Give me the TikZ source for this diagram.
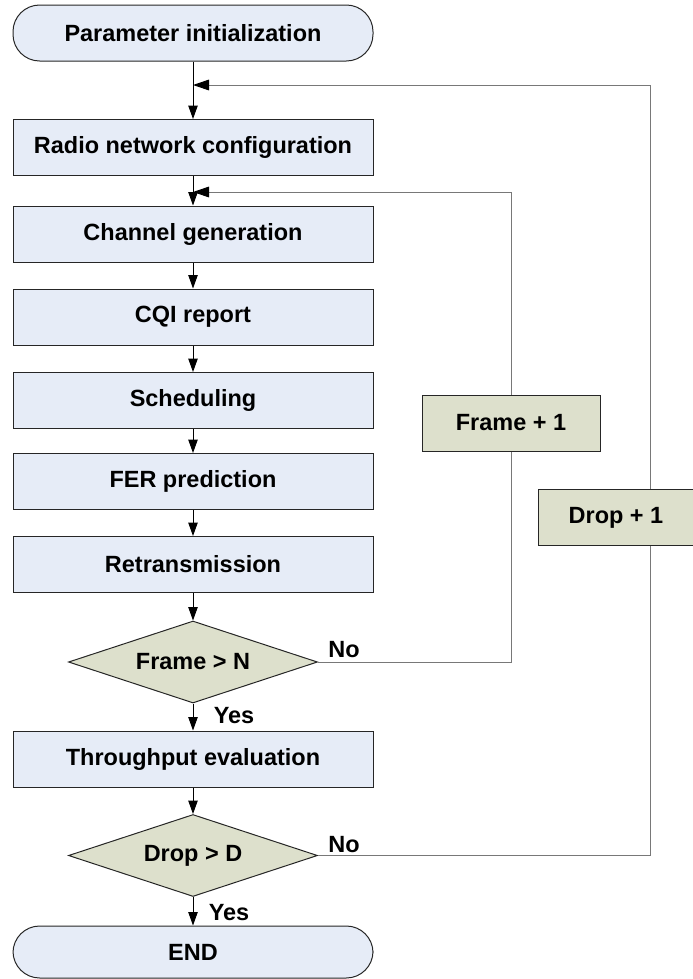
\documentclass[tikz,border=0pt]{standalone}
\usepackage{fontspec}
\setmainfont{Liberation Sans}
\usetikzlibrary{shapes.geometric,arrows.meta}
\definecolor{boxblue}{RGB}{230,236,247}
\definecolor{boxgreen}{RGB}{221,224,204}
\definecolor{linegray}{RGB}{120,120,120}
\begin{document}
\begin{tikzpicture}[x=0.75pt,y=-0.75pt,
  font=\fontsize{17.6}{20}\selectfont\bfseries,
  procbox/.style={draw=black!85, fill=boxblue, line width=0.75pt, minimum width=270pt, minimum height=42pt, inner sep=0pt},
  termbox/.style={procbox, rounded corners=20pt},
  decbox/.style={diamond, shape aspect=3, draw=black!85, fill=boxgreen, line width=0.75pt, minimum width=186.75pt, minimum height=61.5pt, inner sep=0pt},
  incbox/.style={draw=black!85, fill=boxgreen, line width=0.75pt, minimum height=42pt, inner sep=0pt},
  flow/.style={draw=black, line width=0.75pt, -{Triangle[length=10pt,width=7pt]}},
  back/.style={draw=linegray, line width=0.75pt, -{Triangle[length=12pt,width=8pt,color=black]}},
  backline/.style={draw=linegray, line width=0.75pt},
  lbl/.style={inner sep=0pt}
]
\useasboundingbox (0,0) rectangle (693,979);

\node[termbox] (start) at (193,33) {Parameter initialization};
\node[procbox] (radio) at (193,147.5) {Radio network configuration};
\node[procbox] (chan) at (193,234) {Channel generation};
\node[procbox] (cqi) at (193,317) {CQI report};
\node[procbox] (sched) at (193,400.5) {Scheduling};
\node[procbox] (fer) at (193,481.5) {FER prediction};
\node[procbox] (retx) at (193,564.5) {Retransmission};
\node[decbox] (frameN) at (193,662) {Frame > N};
\node[procbox] (thr) at (193,759) {Throughput evaluation};
\node[decbox] (dropD) at (193,855.5) {Drop > D};
\node[termbox, minimum height=39pt] (end) at (193,952) {END};

\node[incbox, minimum width=133.5pt] (frame1) at (511,423) {Frame + 1};
\node[incbox, minimum width=117pt] (drop1) at (616,517.5) {Drop + 1};

\coordinate (j0) at (193,85);
\coordinate (j1) at (193,192);
\coordinate (dline) at (650,85);

\draw[flow] (start) -- (radio);
\draw[flow] (radio) -- (chan);
\draw[flow] (chan) -- (cqi);
\draw[flow] (cqi) -- (sched);
\draw[flow] (sched) -- (fer);
\draw[flow] (fer) -- (retx);
\draw[flow] (retx) -- (frameN);
\draw[flow] (frameN) -- (thr);
\draw[flow] (thr) -- (dropD);
\draw[flow] (dropD) -- (end);

\draw[backline] (frameN.east) -| (frame1.south);
\draw[back] (frame1.north) |- (j1);
\draw[backline] (dropD.east) -| (dline |- drop1.south);
\draw[back] (dline |- drop1.north) -- (dline) -- (j0);

\node[lbl] (no1) at (344,650) {No};
\node[lbl] (no2) at (344,845) {No};
\node[lbl] (yes1) at (234,716) {Yes};
\node[lbl] (yes2) at (229,913) {Yes};
\end{tikzpicture}
\end{document}
